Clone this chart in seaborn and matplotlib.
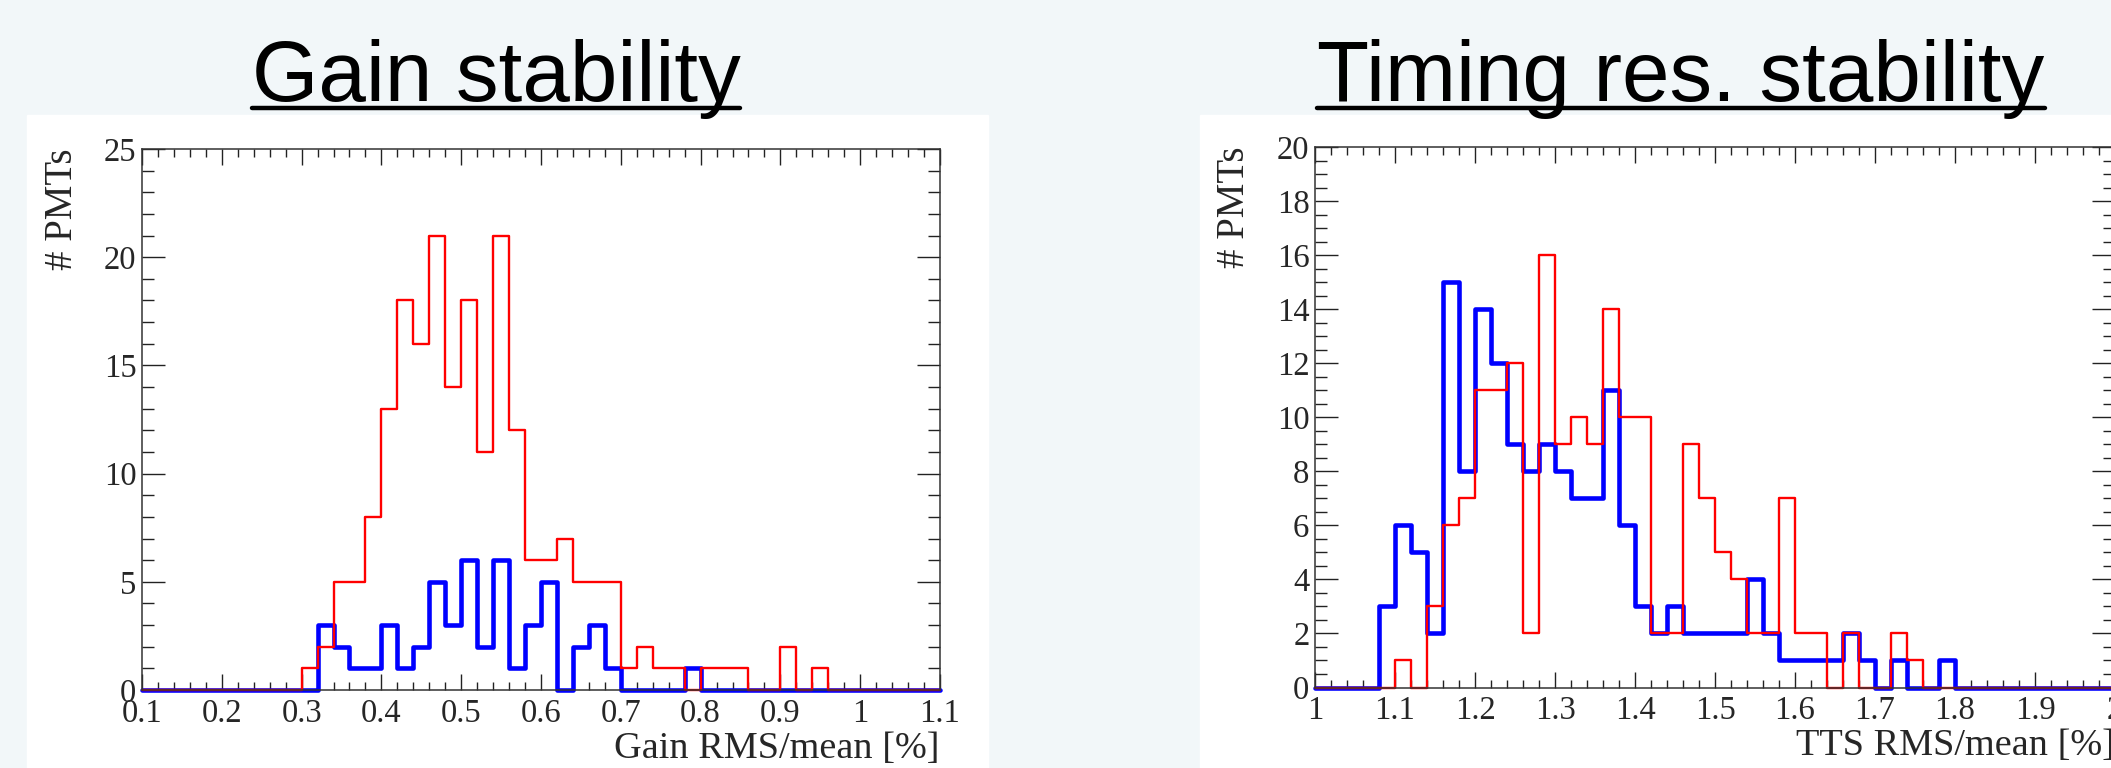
import numpy as np
import pandas as pd
import matplotlib
matplotlib.use('Agg')
import matplotlib.pyplot as plt
import seaborn as sns
from matplotlib.ticker import MultipleLocator, FormatStrFormatter
from matplotlib.lines import Line2D
from matplotlib.patches import Rectangle

# bin counts, 50 bins of 0.02
gain_range = (0.1, 1.1)
gain_red = [0, 0, 0, 0, 0, 0, 0, 0, 0, 0,
            1, 2, 5, 5, 8, 13, 18, 16, 21, 14,
            18, 11, 21, 12, 6, 6, 7, 5, 5, 5,
            1, 2, 1, 1, 0, 1, 1, 1, 0, 0,
            2, 0, 1, 0, 0, 0, 0, 0, 0, 0]
gain_blue = [0, 0, 0, 0, 0, 0, 0, 0, 0, 0,
             0, 3, 2, 1, 1, 3, 1, 2, 5, 3,
             6, 2, 6, 1, 3, 5, 0, 2, 3, 1,
             0, 0, 0, 0, 1, 0, 0, 0, 0, 0,
             0, 0, 0, 0, 0, 0, 0, 0, 0, 0]

tts_range = (1.0, 2.0)
tts_red = [0, 0, 0, 0, 0, 1, 0, 3, 6, 7,
           11, 11, 12, 2, 16, 9, 10, 9, 14, 10,
           10, 2, 2, 9, 7, 5, 4, 2, 2, 7,
           2, 2, 0, 2, 0, 0, 2, 1, 0, 0,
           0, 0, 0, 0, 0, 0, 0, 0, 0, 0]
tts_blue = [0, 0, 0, 0, 3, 6, 5, 2, 15, 8,
            14, 12, 9, 8, 9, 8, 7, 7, 11, 6,
            3, 2, 3, 2, 2, 2, 2, 4, 2, 1,
            1, 1, 1, 2, 1, 0, 1, 0, 0, 1,
            0, 0, 0, 0, 0, 0, 0, 0, 0, 0]

titles = ['Gain stability', 'Timing res. stability']
xlabels = ['Gain RMS/mean [%]', 'TTS RMS/mean [%]']

sns.set_style('ticks')
plt.rcParams['font.family'] = ['Liberation Serif', 'DejaVu Serif']

fig = plt.figure(figsize=(21.11, 7.68), dpi=100)
fig.patch.set_facecolor('#f2f7f9')

W, H = 2111, 768
# white pads behind each plot
fig.add_artist(Rectangle((27 / W, 0), (988 - 27) / W, 1 - 115 / H,
                         transform=fig.transFigure, color='white', zorder=0))
fig.add_artist(Rectangle((1200 / W, 0), (2111 - 1200) / W, 1 - 115 / H,
                         transform=fig.transFigure, color='white', zorder=0))

ax1 = fig.add_axes([142 / W, 1 - 690 / H, 798 / W, 541 / H])
ax2 = fig.add_axes([1315 / W, 1 - 687.5 / H, 800 / W, 540.5 / H])

panels = [
    (ax1, gain_range, gain_blue, gain_red, 25, 5, 1),
    (ax2, tts_range, tts_blue, tts_red, 20, 2, 0.5),
]

for i, (ax, rng, blue, red, ymax, ymaj, ymin) in enumerate(panels):
    nb = len(blue)
    edges = np.linspace(rng[0], rng[1], nb + 1)
    df = pd.DataFrame({'x': (edges[:-1] + edges[1:]) / 2,
                       'blue': blue, 'red': red})
    sns.histplot(data=df, x='x', weights='blue', bins=nb, binrange=rng,
                 element='step', fill=False, color='#0000ff', linewidth=3.3,
                 ax=ax, clip_on=False)
    sns.histplot(data=df, x='x', weights='red', bins=nb, binrange=rng,
                 element='step', fill=False, color='#ff0000', linewidth=1.7,
                 ax=ax, clip_on=False)
    ax.set_xlim(rng)
    ax.set_ylim(0, ymax)
    ax.xaxis.set_major_locator(MultipleLocator(0.1))
    ax.xaxis.set_minor_locator(MultipleLocator(0.02))
    ax.yaxis.set_major_locator(MultipleLocator(ymaj))
    ax.yaxis.set_minor_locator(MultipleLocator(ymin))
    ax.xaxis.set_major_formatter(FormatStrFormatter('%g'))
    ax.tick_params(which='both', direction='in', top=True, right=True,
                   labelsize=23.5, color='#222222', width=1.0)
    ax.tick_params(axis='x', which='major', length=11.5, pad=6)
    ax.tick_params(axis='x', which='minor', length=5.5)
    ax.tick_params(axis='y', which='major', length=16.5, pad=4)
    ax.tick_params(axis='y', which='minor', length=8.5)
    for sp in ax.spines.values():
        sp.set_color('#333333')
        sp.set_linewidth(1.1)
    ax.set_facecolor('white')
    ax.set_xlabel(xlabels[i], fontsize=27.5, loc='right')
    ax.xaxis.set_label_coords(1.0, -0.076)
    ax.set_ylabel('# PMTs', fontsize=28, loc='top')
    ax.yaxis.set_label_coords(-0.077, 1.0)

# underlined titles
title_x = [496 / W, 1681 / W]
ty = 1 - 101 / H
texts = []
for tx, t in zip(title_x, titles):
    texts.append(fig.text(tx, ty, t, ha='center', va='baseline', fontsize=61.5,
                          family='Liberation Sans', color='black'))
fig.canvas.draw()
renderer = fig.canvas.get_renderer()
for t in texts:
    bb = t.get_window_extent(renderer).transformed(fig.transFigure.inverted())
    fig.add_artist(Line2D([bb.x0, bb.x1], [1 - 108 / H, 1 - 108 / H],
                          transform=fig.transFigure, color='black', linewidth=3.2))

fig.savefig('out.png', dpi=100, facecolor=fig.get_facecolor())
